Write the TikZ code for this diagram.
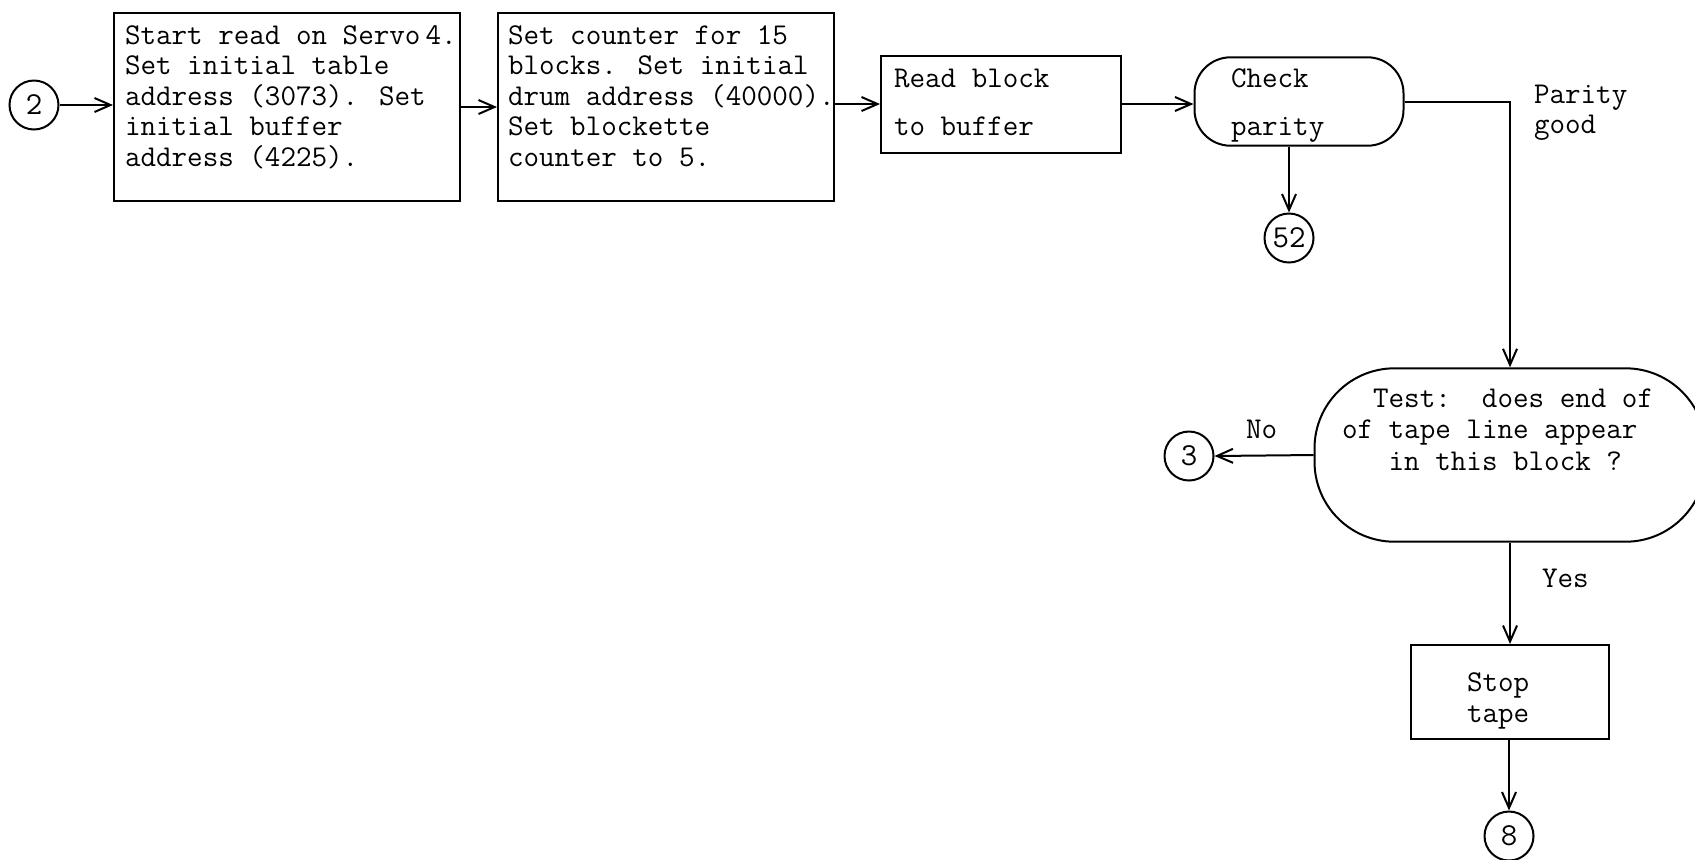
\documentclass[tikz,border=0pt]{standalone}
\usepackage{tikz}
\usetikzlibrary{arrows.meta, positioning, calc}

\begin{document}
\begin{tikzpicture}[x=0.5pt, y=-0.5pt, line width=1pt,
    >={Straight Barb[length=8pt, width=7pt]},
    box/.style={draw, rectangle, inner sep=0pt},
    term/.style={draw, rectangle, inner sep=0pt, rounded corners=#1},
    conn/.style={draw, circle, inner sep=0pt, minimum size=24.5pt, font=\fontsize{16pt}{16pt}\selectfont\ttfamily},
    txt/.style={inner sep=0pt, align=left, anchor=base west, font=\fontsize{15.1pt}{#1}\selectfont\ttfamily},
    txt/.default=15.25pt]
        \useasboundingbox (0,0) rectangle (1695,859);

        % Top row (text nodes sit on the baseline of their last line)
        \node[conn] (c2) at (34,105) {2};
        \node[box, minimum width=173pt, minimum height=94pt] (setup) at (287,107) {};
        \node[txt] (setup-txt) at (124,166) {Start read on Servo\,4.\\Set initial table\\address (3073). Set\\initial buffer\\address (4225).};
        \node[box, minimum width=168pt, minimum height=94pt] (counter) at (666,107) {};
        \node[txt] (counter-txt) at (507,166) {Set counter for 15\\blocks. Set initial\\drum address (40000).\\Set blockette\\counter to 5.};
        \node[box, minimum width=120pt, minimum height=48.5pt] (readblk) at (1001,104) {};
        \node[txt=23.9pt] (readblk-txt) at (893,135) {Read block\\to buffer};
        \node[term=18pt, minimum width=104.5pt, minimum height=44.2pt] (chk) at (1299,101.5) {};
        \node[txt=23.9pt] (chk-txt) at (1230,135) {Check\\parity};
        \node[conn] (c52) at (1289,238) {52};
        \node[txt=15pt] (pgood) at (1533,133) {Parity\\good};

        % Test for end of tape
        \node[term=40pt, minimum width=195.5pt, minimum height=86.7pt] (test) at (1510,455) {};
        \node[txt=15.7pt] (test-txt) at (1341,470) {~~Test:~~does end of\\of tape line appear\\~~~in this block ?};
        \node[conn] (c3) at (1189,456) {3};
        \node[txt] (no) at (1245,438) {No};
        \node[txt] (yes) at (1541,587) {Yes};
        \node[box, minimum width=99pt, minimum height=47pt] (stop) at (1510,692) {};
        \node[txt=15.5pt] (stop-txt) at (1466,722) {Stop\\tape};
        \node[conn] (c8) at (1509,836) {8};

        % Connectors
        \draw[->] (c2.east) -- (c2.east -| setup.west);
        \draw[->] (setup.east) -- (counter.west);
        \draw[->] (readblk.west -| counter.east) -- (readblk.west);
        \draw[->] (readblk.east) -- (readblk.east -| chk.west);
        \draw[->] (c52 |- chk.south) -- (c52.north);
        \draw[->] (chk.east) -| (test.north);
        \draw[->] (test.west) -- (c3.east);
        \draw[->] (test.south) -- (stop.north);
        \draw[->] (c8 |- stop.south) -- (c8.north);
\end{tikzpicture}
\end{document}
